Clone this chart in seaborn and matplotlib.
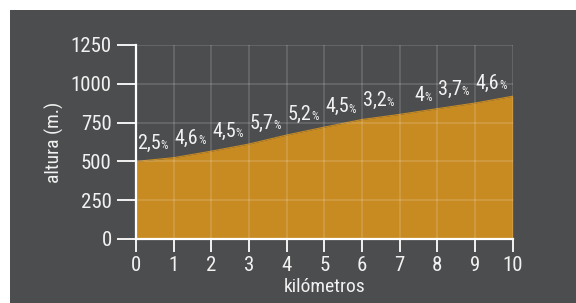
import numpy as np
import pandas as pd
import matplotlib
matplotlib.use('Agg')
import matplotlib.pyplot as plt
import seaborn as sns
from matplotlib.patches import Rectangle
from matplotlib import font_manager

km = [0, 1, 2, 3, 4, 5, 6, 7, 8, 9, 10]
altura = [500, 524, 566, 612, 670, 721, 770, 803, 840, 876, 920]
pendiente = ['2,5', '4,6', '4,5', '5,7', '5,2', '4,5', '3,2', '4', '3,7', '4,6']
yticks = [0, 250, 500, 750, 1000, 1250]

df = pd.DataFrame({'km': km, 'altura': altura})

sns.set_style('dark')
names = {f.name for f in font_manager.fontManager.ttflist}
cands = [n for n in ['Roboto Condensed', 'Liberation Sans Narrow', 'Liberation Sans'] if n in names]
plt.rcParams['font.family'] = cands[:1] + ['DejaVu Sans']

panel = '#4c4d4f'
fill = '#c88b22'
txt = '#f2f2f2'

fig = plt.figure(figsize=(5.76, 3.03), dpi=100, facecolor='white')
fig.patches.append(Rectangle((10/576, 0), 1, (303-10)/303, transform=fig.transFigure,
                             facecolor=panel, edgecolor='none', zorder=-10))
ax = fig.add_axes([136/576, 1 - 239/303, (512.7-136)/576, (239-45)/303])
ax.set_facecolor(panel)

sns.lineplot(data=df, x='km', y='altura', color=fill, linewidth=0.8, ax=ax, zorder=2)
ax.fill_between(df['km'], df['altura'], 0, color=fill, linewidth=0, zorder=1)

ax.set_xlim(0, 10)
ax.set_ylim(0, 1250)
ax.set_xticks(km)
ax.set_yticks(yticks)
ax.grid(True, color='white', alpha=0.16, linewidth=1.2)
ax.set_axisbelow(False)
for s in ['top', 'right']:
    ax.spines[s].set_visible(False)
for s in ['left', 'bottom']:
    ax.spines[s].set_color('white')
    ax.spines[s].set_linewidth(1.6)
    ax.spines[s].set_zorder(5)
ax.tick_params(axis='y', colors='white', labelcolor=txt, labelsize=15, length=14,
               width=1.3, pad=3.5, left=True, direction='out')
ax.tick_params(axis='x', colors='white', labelcolor=txt, labelsize=15, length=9.5,
               width=1.3, pad=3, bottom=True, direction='out')
ax.set_xlabel('kilómetros', color=txt, fontsize=14, labelpad=2)
ax.set_ylabel('altura (m.)', color=txt, fontsize=14, labelpad=5)

# percentage labels on each km segment
for i, p in enumerate(pendiente):
    xm = km[i] + 0.5
    ym = (altura[i] + altura[i + 1]) / 2
    ax.annotate(p, (xm, ym), xytext=(4, 5), textcoords='offset points',
                ha='right', va='bottom', color=txt, fontsize=14.5, zorder=6)
    ax.annotate('%', (xm, ym), xytext=(4, 5.5), textcoords='offset points',
                ha='left', va='bottom', color=txt, fontsize=8.5, zorder=6)

fig.savefig('out.png', dpi=100, facecolor='white')
